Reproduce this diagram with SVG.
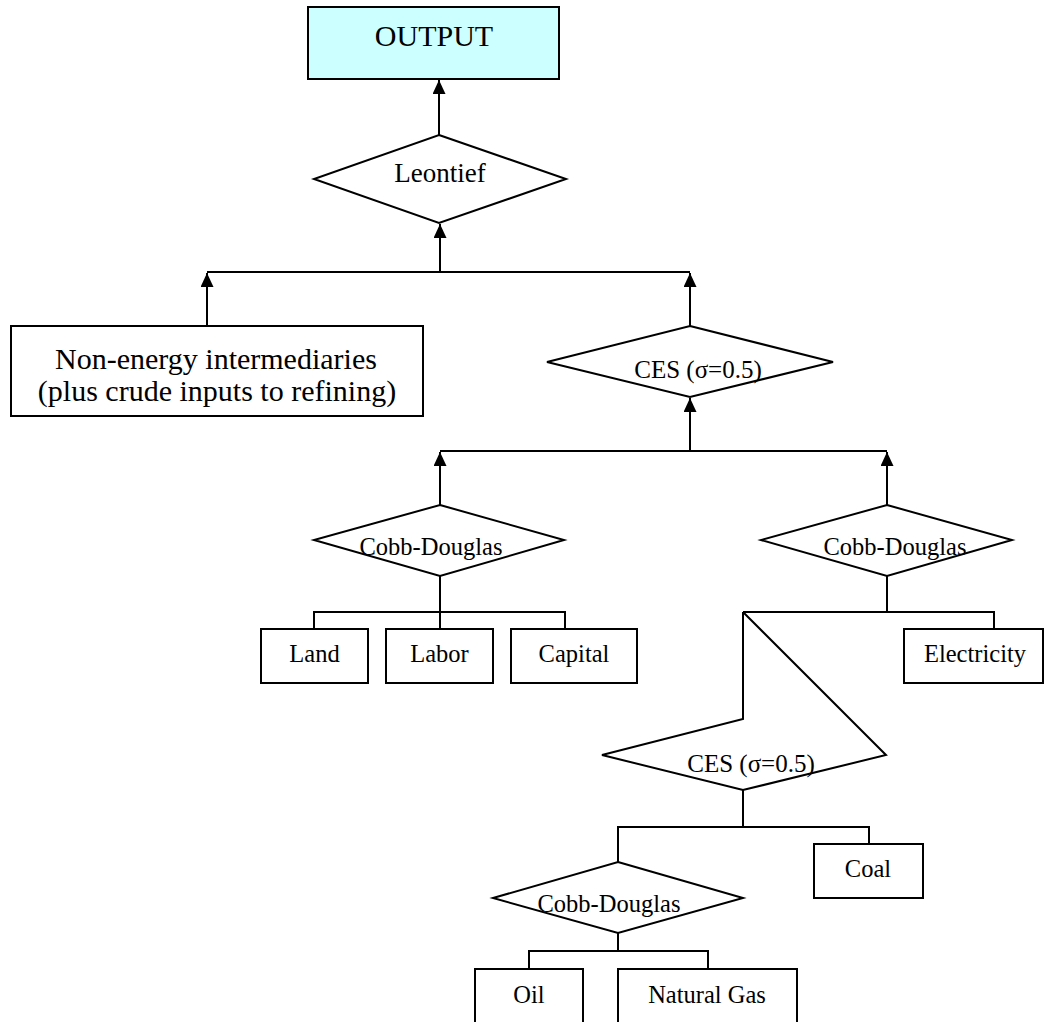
<svg xmlns="http://www.w3.org/2000/svg" width="1044" height="1022" viewBox="0 0 1044 1022">
<defs>
<marker id="arr" markerUnits="userSpaceOnUse" markerWidth="14" markerHeight="13" refX="14" refY="6.5" orient="auto">
<path d="M0,0 L14,6.5 L0,13 Z" fill="#000"/>
</marker>
</defs>
<style>
.shape{fill:#fff;stroke:#000;stroke-width:2}
.out{fill:#ccffff;stroke:#000;stroke-width:2}
.open{fill:none;stroke:#000;stroke-width:2}
.con{fill:none;stroke:#000;stroke-width:2}
.arrow{marker-end:url(#arr)}
text{font-family:"Liberation Serif","Times New Roman",serif;fill:#000;text-anchor:middle}
.t30{font-size:30px}
.t27{font-size:27px}
.t25{font-size:25px}
.t24{font-size:24.5px}
</style>
<rect width="1044" height="1022" fill="#fff"/>
<g id="connectors">
<line class="con arrow" x1="439" y1="135" x2="439" y2="80"/>
<line class="con arrow" x1="440" y1="272" x2="440" y2="224"/>
<line class="con" x1="207" y1="272" x2="690" y2="272"/>
<line class="con arrow" x1="207" y1="326" x2="207" y2="273"/>
<line class="con arrow" x1="690" y1="326" x2="690" y2="273"/>
<line class="con arrow" x1="690" y1="451" x2="690" y2="398"/>
<line class="con" x1="440" y1="451" x2="887" y2="451"/>
<line class="con arrow" x1="440" y1="505" x2="440" y2="452"/>
<line class="con arrow" x1="887" y1="505" x2="887" y2="452"/>
<polyline class="con" points="440,576 440,629"/>
<polyline class="con" points="314,629 314,612 565,612 565,629"/>
<polyline class="con" points="887,576 887,612"/>
<polyline class="con" points="743,612 994,612 994,629"/>
<polyline class="con" points="743,790 743,827"/>
<polyline class="con" points="618,862 618,827 869,827 869,844"/>
<polyline class="con" points="618,933 618,951"/>
<polyline class="con" points="529,969 529,951 708,951 708,969"/>
</g>
<g id="output">
<rect class="out" x="308" y="7" width="251" height="72"/>
<text class="t30" x="434" y="46">OUTPUT</text>
</g>
<g id="leontief">
<polygon class="shape" points="439,135 566,179 439,223 314,179"/>
<text class="t27" x="440" y="182">Leontief</text>
</g>
<g id="nonenergy">
<rect class="shape" x="11" y="326" width="412" height="90"/>
<text class="t30" x="216" y="369">Non-energy intermediaries</text>
<text class="t30" x="217" y="401">(plus crude inputs to refining)</text>
</g>
<g id="ces1">
<polygon class="shape" points="690,326 833,362 690,397 547,362"/>
<text class="t25" x="698" y="378">CES (σ=0.5)</text>
</g>
<g id="cobb1">
<polygon class="shape" points="440,505 564,540 440,576 314,540"/>
<text class="t24" x="431" y="555">Cobb-Douglas</text>
</g>
<g id="cobb2">
<polygon class="shape" points="887,505 1012,540 887,576 761,540"/>
<text class="t24" x="895" y="555">Cobb-Douglas</text>
</g>
<g id="land">
<rect class="shape" x="261" y="629" width="107" height="54"/>
<text class="t24" x="314.5" y="662">Land</text>
</g>
<g id="labor">
<rect class="shape" x="386" y="629" width="107" height="54"/>
<text class="t24" x="439.5" y="662">Labor</text>
</g>
<g id="capital">
<rect class="shape" x="511" y="629" width="126" height="54"/>
<text class="t24" x="574" y="662">Capital</text>
</g>
<g id="electricity">
<rect class="shape" x="904" y="629" width="139" height="54"/>
<text class="t24" x="975" y="662">Electricity</text>
</g>
<g id="ces2">
<path class="open" d="M743,612 L743,719 L602,755 L743,790 L886,755 L743,612"/>
<text class="t25" x="751" y="772">CES (σ=0.5)</text>
</g>
<g id="coal">
<rect class="shape" x="814" y="844" width="109" height="54"/>
<text class="t24" x="868" y="877">Coal</text>
</g>
<g id="cobb3">
<polygon class="shape" points="618,862 743,898 618,933 493,898"/>
<text class="t24" x="609" y="912">Cobb-Douglas</text>
</g>
<g id="oil">
<rect class="shape" x="475" y="969" width="108" height="70"/>
<text class="t24" x="529" y="1003">Oil</text>
</g>
<g id="naturalgas">
<rect class="shape" x="618" y="969" width="179" height="70"/>
<text class="t24" x="707" y="1003">Natural Gas</text>
</g>
</svg>
